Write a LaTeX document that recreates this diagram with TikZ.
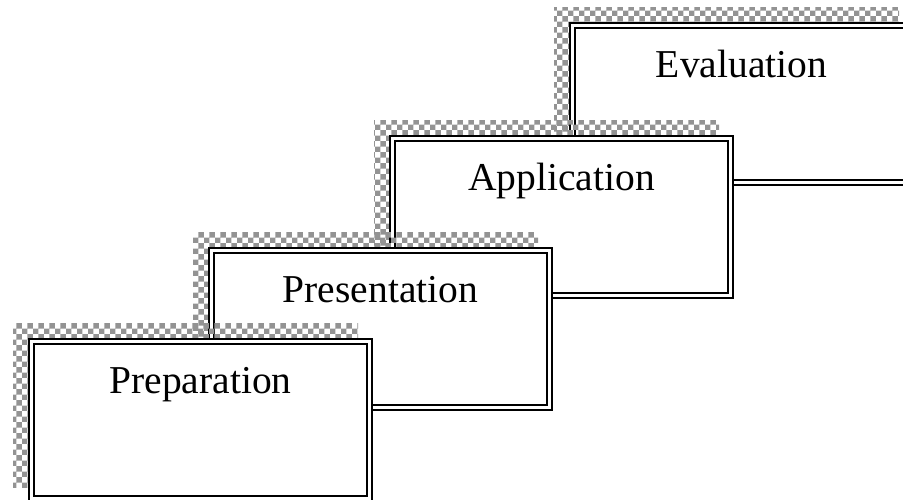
\documentclass[tikz,border=0pt]{standalone}
\usepackage{fontspec}
\setmainfont{Liberation Serif}
\usetikzlibrary{shadows,patterns}

\begin{document}
\begin{tikzpicture}[
    x=1pt, y=1pt,
    every node/.style={font=\fontsize{39.5pt}{47pt}\selectfont},
    stage/.style={rectangle, fill=white, inner sep=0pt, outer sep=0pt,
        minimum width=345pt, minimum height=164pt,
        general shadow={shadow xshift=-15pt, shadow yshift=15pt,
            pattern=checkerboard, pattern color=gray!85},
        path picture={
            \draw[line width=2.4pt, double distance=2.4pt]
                ([shift={(3.6pt,-3.6pt)}]path picture bounding box.north west)
                rectangle ([shift={(-3.6pt,3.6pt)}]path picture bounding box.south east);
        }},
    stage text/.style={anchor=base}
]
    \useasboundingbox (0,0) rectangle (903,-499);

    % back to front
    \node[stage] (eval) at (741.5,-104) {};
    \draw (eval.north) ++(0,-55) node[stage text] (eval_txt) {Evaluation};

    \draw (eval) ++(-180,-113) node[stage] (appl) {};
    \draw (appl.north) ++(0,-55) node[stage text] (appl_txt) {Application};

    \draw (appl) ++(-181,-112) node[stage] (pres) {};
    \draw (pres.north) ++(0,-55) node[stage text] (pres_txt) {Presentation};

    \draw (pres) ++(-180,-91) node[stage] (prep) {};
    \draw (prep.north) ++(0,-55) node[stage text] (prep_txt) {Preparation};
\end{tikzpicture}
\end{document}
